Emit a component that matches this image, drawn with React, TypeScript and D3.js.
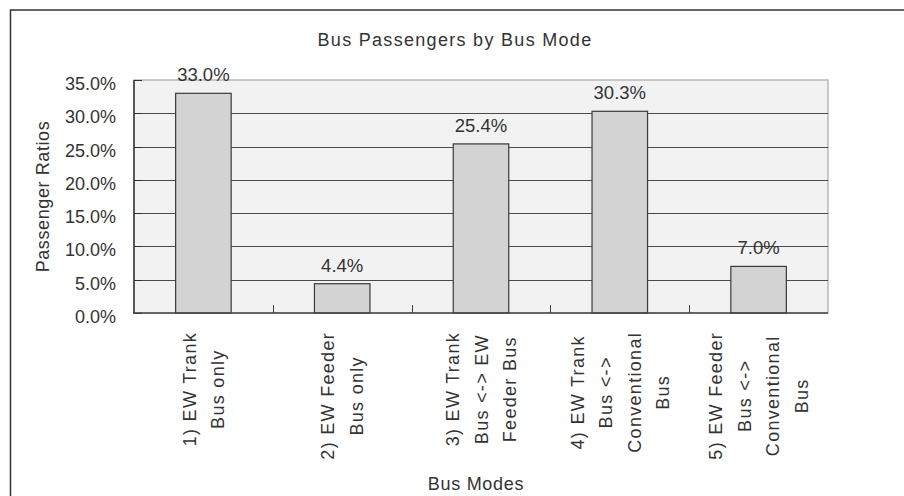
import React, { useEffect, useRef } from "react";
import * as d3 from "d3";

const categories: string[][] = [
  ["1) EW Trank", "Bus only"],
  ["2) EW Feeder", "Bus only"],
  ["3) EW Trank", "Bus <-> EW", "Feeder Bus"],
  ["4) EW Trank", "Bus <->", "Conventional", "Bus"],
  ["5) EW Feeder", "Bus <->", "Conventional", "Bus"],
];
const ratios: number[] = [33.0, 4.4, 25.4, 30.3, 7.0];
const yTicks: number[] = [0, 5, 10, 15, 20, 25, 30, 35];

const chartTitle = "Bus Passengers by Bus Mode";
const yTitle = "Passenger Ratios";
const xTitle = "Bus Modes";

const W = 904;
const H = 496;
const plot = { left: 134, right: 828, top: 80, bottom: 313 };
const FONT = "'Liberation Sans', Arial, sans-serif";
const TEXT = "#333333";
const WORD_SPACING = 1.3;

export default function App() {
  const ref = useRef<SVGSVGElement | null>(null);

  useEffect(() => {
    document.body.style.margin = "0";
    const svg = d3.select(ref.current);
    svg.selectAll("*").remove();

    const x = d3
      .scaleBand<number>()
      .domain(d3.range(categories.length))
      .range([plot.left, plot.right])
      .paddingInner(0.6)
      .paddingOuter(0.3);
    const y = d3.scaleLinear().domain([0, 35]).range([plot.bottom, plot.top]);
    const step = x.step();

    // outer frame
    svg
      .append("rect")
      .attr("x", 10.5)
      .attr("y", 10)
      .attr("width", W)
      .attr("height", H)
      .attr("fill", "white")
      .attr("stroke", "#333")
      .attr("stroke-width", 1.5);

    // plot background
    svg
      .append("rect")
      .attr("x", plot.left)
      .attr("y", plot.top)
      .attr("width", plot.right - plot.left)
      .attr("height", plot.bottom - plot.top)
      .attr("fill", "#f2f2f2")
      .attr("stroke", "#b8b8b8")
      .attr("stroke-width", 1.5);

    // horizontal gridlines
    svg
      .append("g")
      .selectAll("line")
      .data(yTicks.filter((t) => t > 0 && t < 35))
      .join("line")
      .attr("x1", plot.left)
      .attr("x2", plot.right)
      .attr("y1", (d) => Math.round(y(d)) + 0.5)
      .attr("y2", (d) => Math.round(y(d)) + 0.5)
      .attr("stroke", "#4a4a4a")
      .attr("stroke-width", 1);

    // y tick marks (inward)
    svg
      .append("g")
      .selectAll("line")
      .data(yTicks)
      .join("line")
      .attr("x1", plot.left)
      .attr("x2", plot.left + 8)
      .attr("y1", (d) => Math.round(y(d)) + 0.5)
      .attr("y2", (d) => Math.round(y(d)) + 0.5)
      .attr("stroke", "#333")
      .attr("stroke-width", 1);

    // bars
    svg
      .append("g")
      .selectAll("rect")
      .data(ratios)
      .join("rect")
      .attr("x", (_, i) => x(i)!)
      .attr("y", (d) => y(d))
      .attr("width", x.bandwidth())
      .attr("height", (d) => y(0) - y(d))
      .attr("fill", "#d3d3d3")
      .attr("stroke", "#3a3a3a")
      .attr("stroke-width", 1.2);

    // axis lines
    svg
      .append("line")
      .attr("x1", plot.left)
      .attr("x2", plot.left)
      .attr("y1", plot.top)
      .attr("y2", plot.bottom)
      .attr("stroke", "#333")
      .attr("stroke-width", 1.5);
    svg
      .append("line")
      .attr("x1", plot.left - 1)
      .attr("x2", plot.right)
      .attr("y1", plot.bottom)
      .attr("y2", plot.bottom)
      .attr("stroke", "#444")
      .attr("stroke-width", 1.6);

    // x tick marks between categories (inward)
    svg
      .append("g")
      .selectAll("line")
      .data(d3.range(1, categories.length))
      .join("line")
      .attr("x1", (i) => Math.round(plot.left + i * step) + 0.5)
      .attr("x2", (i) => Math.round(plot.left + i * step) + 0.5)
      .attr("y1", plot.bottom - 8)
      .attr("y2", plot.bottom)
      .attr("stroke", "#444")
      .attr("stroke-width", 1);

    // y tick labels
    svg
      .append("g")
      .selectAll("text")
      .data(yTicks)
      .join("text")
      .attr("x", 116)
      .attr("y", (d) => y(d) + 10)
      .attr("text-anchor", "end")
      .attr("font-family", FONT)
      .attr("font-size", 18)
      .attr("fill", TEXT)
      .text((d) => d.toFixed(1) + "%");

    // value labels
    svg
      .append("g")
      .selectAll("text")
      .data(ratios)
      .join("text")
      .attr("x", (_, i) => x(i)! + x.bandwidth() / 2)
      .attr("y", (d) => y(d) - 12)
      .attr("text-anchor", "middle")
      .attr("font-family", FONT)
      .attr("font-size", 18.5)
      .attr("fill", TEXT)
      .text((d) => d.toFixed(1) + "%");

    // category labels, rotated, lines centred on each other
    const lineGap = 28.5;
    const labelTop = plot.bottom + 19;
    categories.forEach((lines, i) => {
      const cx = x(i)! + x.bandwidth() / 2;
      const g = svg.append("g");
      const texts = g
        .selectAll("text")
        .data(lines)
        .join("text")
        .attr("text-anchor", "middle")
        .attr("font-family", FONT)
        .attr("font-size", 18)
        .attr("letter-spacing", WORD_SPACING)
        .attr("fill", TEXT)
        .attr("x", 0)
        .attr("y", (_, j) => (j - (lines.length - 1) / 2) * lineGap + 6.5)
        .text((d) => d);
      let maxW = 0;
      texts.each(function () {
        maxW = Math.max(maxW, (this as SVGTextElement).getComputedTextLength());
      });
      g.attr("transform", `translate(${cx},${labelTop + maxW / 2}) rotate(-90)`);
    });

    // titles
    svg
      .append("text")
      .attr("x", 455)
      .attr("y", 46)
      .attr("text-anchor", "middle")
      .attr("font-family", FONT)
      .attr("font-size", 18)
      .attr("letter-spacing", WORD_SPACING)
      .attr("fill", TEXT)
      .text(chartTitle);
    svg
      .append("text")
      .attr("transform", `translate(49,${(plot.top + plot.bottom) / 2}) rotate(-90)`)
      .attr("text-anchor", "middle")
      .attr("font-family", FONT)
      .attr("font-size", 18)
      .attr("letter-spacing", 0.6)
      .attr("fill", TEXT)
      .text(yTitle);
    svg
      .append("text")
      .attr("x", 476)
      .attr("y", 490)
      .attr("text-anchor", "middle")
      .attr("font-family", FONT)
      .attr("font-size", 18)
      .attr("letter-spacing", 0.7)
      .attr("fill", TEXT)
      .text(xTitle);
  }, []);

  return (
    <svg
      ref={ref}
      width={W}
      height={H}
      style={{ display: "block", background: "white" }}
    />
  );
}
